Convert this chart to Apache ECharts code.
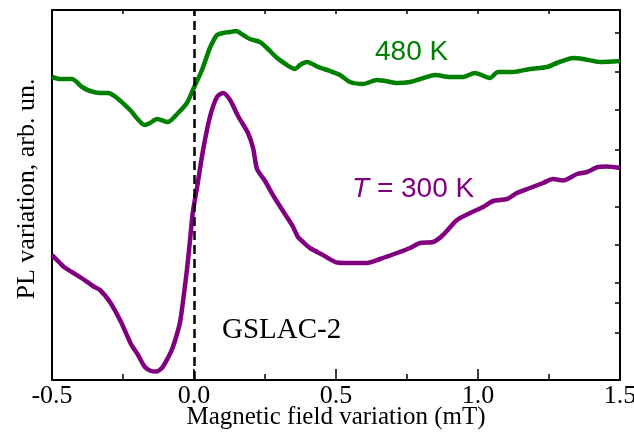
<!DOCTYPE html>
<html>
<head>
<meta charset="utf-8">
<script src="https://cdn.jsdelivr.net/npm/echarts@6/dist/echarts.min.js"></script>
<style>
  html, body { margin: 0; padding: 0; background: #fff; }
  #chart { width: 634px; height: 441px; }
</style>
</head>
<body>
<div id="chart"></div>
<script>
// Magnetic field variation (mT)
const fieldHot = [-0.500,-0.472,-0.430,-0.394,-0.366,-0.331,-0.303,-0.271,-0.225,-0.173,-0.155,-0.130,-0.092,-0.056,-0.025,-0.004,0.028,0.056,0.081,0.102,0.127,0.148,0.173,0.197,0.232,0.257,0.289,0.317,0.356,0.373,0.398,0.437,0.479,0.514,0.549,0.595,0.644,0.673,0.715,0.761,0.796,0.849,0.901,0.947,0.989,1.042,1.070,1.123,1.183,1.243,1.278,1.335,1.370,1.430,1.500];
// PL variation at 480 K, arbitrary units (offset trace)
const plHot = [303,301,301,293,289,287,287,282,270,255,257,261,258,267,277,290,310,332,345,347,348,349,345,341,338,332,323,317,311,315,318,313,309,305,298,296,300,299,297,298,301,305,303,303,307,302,308,308,311,313,317,322,321,318,319];

const fieldRoom = [-0.500,-0.472,-0.458,-0.430,-0.391,-0.356,-0.331,-0.296,-0.257,-0.222,-0.197,-0.173,-0.151,-0.134,-0.113,-0.092,-0.077,-0.063,-0.049,-0.039,-0.025,-0.014,-0.004,0.011,0.032,0.056,0.081,0.102,0.127,0.155,0.190,0.208,0.222,0.250,0.282,0.327,0.349,0.366,0.384,0.408,0.454,0.504,0.549,0.609,0.655,0.715,0.761,0.796,0.842,0.877,0.926,0.972,1.018,1.053,1.102,1.137,1.183,1.229,1.264,1.299,1.349,1.384,1.423,1.454,1.500];
// PL variation at T = 300 K, arbitrary units
const plRoom = [125,117,113,108,101,94,90,78,58,36,25,13,9,8.5,12,22,31,43,58,78,110,140,168,193,230,263,283,287,280,264,247,232,211,199,183,163,153,143,138,132,125,117.5,117,117,121,127,132,137,138,145,160,167,173,179,181,187,192,197,201,199.5,206,208,213,213.5,212];

const xTickLabels = ['-0.5', '0.0', '0.5', '1.0', '1.5'];
const rightTicks = [347, 308, 270, 230, 173, 135, 97, 77, 47];

const GREEN = '#008000';
const PURPLE = '#800080';
const SERIF = '"Liberation Serif", "DejaVu Serif", serif';
const SANS = '"Liberation Sans", Arial, sans-serif';

const zip = (xs, ys) => xs.map((x, i) => [x, ys[i]]);

const chart = echarts.init(document.getElementById('chart'), null, { renderer: 'canvas' });

chart.setOption({
  animation: false,
  backgroundColor: '#fff',
  grid: { left: 52, right: 14, top: 10, bottom: 61, outerBoundsMode: 'none' },
  xAxis: [
    {
      type: 'value', position: 'bottom', min: -0.5, max: 1.5, interval: 0.5,
      axisLine: { show: true, onZero: false, lineStyle: { color: '#000', width: 2 } },
      axisTick: { show: true, inside: true, length: 11, lineStyle: { color: '#000', width: 1.5 } },
      minorTick: { show: true, splitNumber: 2, length: 6, lineStyle: { color: '#000', width: 1.5 } },
      splitLine: { show: false },
      axisLabel: {
        color: '#000', fontFamily: SERIF, fontSize: 26, margin: 3,
        formatter: (v) => xTickLabels[Math.round((v + 0.5) / 0.5)] ?? ''
      },
      name: 'Magnetic field variation (mT)', nameLocation: 'middle', nameGap: 25,
      nameMoveOverlap: false,
      nameTextStyle: { color: '#000', fontFamily: SERIF, fontSize: 25 }
    },
    {
      type: 'value', position: 'top', min: -0.5, max: 1.5, interval: 0.25,
      axisLine: { show: true, onZero: false, lineStyle: { color: '#000', width: 2 } },
      axisTick: { show: true, inside: true, length: 4, lineStyle: { color: '#000', width: 1.5 } },
      axisLabel: { show: false }, splitLine: { show: false }
    }
  ],
  yAxis: [
    {
      type: 'value', position: 'left', min: 0, max: 370,
      axisLine: { show: true, onZero: false, lineStyle: { color: '#000', width: 2 } },
      axisTick: { show: false }, axisLabel: { show: false }, splitLine: { show: false },
      name: 'PL variation, arb. un.', nameLocation: 'middle', nameGap: 12, nameRotate: 90,
      nameTextStyle: { color: '#000', fontFamily: SERIF, fontSize: 26, padding: [0, 0, 0, 12] }
    },
    {
      type: 'value', position: 'right', min: 0, max: 370,
      axisLine: { show: true, onZero: false, lineStyle: { color: '#000', width: 2 } },
      axisTick: { show: true, inside: true, length: 5, customValues: rightTicks, lineStyle: { color: '#000', width: 1.5 } },
      axisLabel: { show: false }, splitLine: { show: false }
    }
  ],
  series: [
    {
      name: '480 K', type: 'line', data: zip(fieldHot, plHot),
      showSymbol: false, smooth: 0.25, z: 3,
      lineStyle: { color: GREEN, width: 4.5 }
    },
    {
      name: '300 K', type: 'line', data: zip(fieldRoom, plRoom),
      showSymbol: false, smooth: 0.25, z: 3,
      lineStyle: { color: PURPLE, width: 4.5 },
      markLine: {
        silent: true, symbol: ['none', 'none'], label: { show: false },
        lineStyle: { color: '#000', type: [9, 5], width: 2.5 },
        data: [{ xAxis: 0 }]
      }
    }
  ],
  graphic: [
    {
      type: 'text', left: 375, top: 38, z: 10,
      style: { text: '480 K', fill: GREEN, font: '28px ' + SANS }
    },
    {
      type: 'text', left: 352, top: 175, z: 10,
      style: {
        text: '{i|T} = 300 K', fill: PURPLE, font: '28px ' + SANS,
        rich: { i: { fontStyle: 'italic', fontSize: 28, fontFamily: SANS, fill: PURPLE } }
      }
    },
    {
      type: 'text', left: 222, top: 316, z: 10,
      style: { text: 'GSLAC-2', fill: '#000', font: '29px ' + SERIF }
    }
  ]
});
</script>
</body>
</html>
